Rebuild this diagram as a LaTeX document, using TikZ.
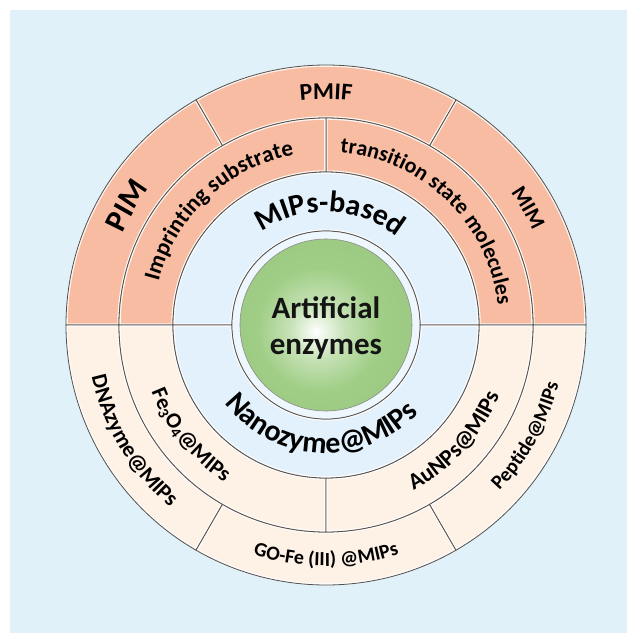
\documentclass[tikz,border=0pt]{standalone}
\usepackage{fontspec}
\setmainfont{Carlito}
\usetikzlibrary{decorations.text}

\definecolor{panelblue}{RGB}{224,241,250}
\definecolor{ringblue}{RGB}{226,241,251}
\definecolor{salmon}{RGB}{247,188,161}
\definecolor{cream}{RGB}{254,241,229}
\definecolor{leafgreen}{RGB}{160,206,134}
\definecolor{edgegray}{RGB}{85,78,74}

\pgfdeclareradialshading{coreglow}{\pgfpoint{-3bp}{-2bp}}{color(0bp)=(white); color(8bp)=(leafgreen!60!white); color(18bp)=(leafgreen); color(50bp)=(leafgreen!93!black)}

% one piece of a ring: inner radius, outer radius, from, to, colour
\newcommand{\ringpart}[5]{%
  \def\partpath{(#3:#2) arc[start angle=#3, end angle=#4, radius=#2] -- (#4:#1) arc[start angle=#4, end angle=#3, radius=#1] -- cycle}
  \fill[#5] \partpath;
  \begin{scope}
    \clip \partpath;
    \draw[white, line width=3.5pt, opacity=0.85] \partpath;
  \end{scope}
  \draw[edgegray, line width=0.8pt] \partpath;}

% text centred on an arc: radius, from, to, size, text
\newcommand{\arclabel}[5]{%
  \path[decorate, decoration={text along path, text align=center,
      text={|\fontsize{#4}{#4}\selectfont\bfseries|#5}}]
    (#2:#1) arc[start angle=#2, end angle=#3, radius=#1];}

\begin{document}
\begin{tikzpicture}[x=1pt, y=1pt]
  \useasboundingbox (-326,-308) rectangle (301,325);
  \fill[panelblue] (-316,-308) rectangle (301,315);

  % outer ring
  \foreach \from/\to/\col in {0/60/salmon, 60/120/salmon, 120/180/salmon,
                              180/240/cream, 240/300/cream, 300/360/cream}
    \ringpart{207}{260}{\from}{\to}{\col};
  % second ring
  \foreach \from/\to/\col in {0/90/salmon, 90/180/salmon, 180/270/cream, 270/360/cream}
    \ringpart{153}{207}{\from}{\to}{\col};
  % inner ring
  \foreach \from/\to in {0/180, 180/360}
    \ringpart{94}{153}{\from}{\to}{ringblue};

  % core
  \filldraw[fill=ringblue!60!white, draw=edgegray, line width=0.7pt] (0,0) circle (94);
  \shade[shading=coreglow] (0,0) circle (86);
  \draw[black!45, line width=0.6pt] (0,0) circle (86);
  \node[font=\fontsize{31}{36}\selectfont\bfseries, align=center, text=black!92] (core) at (0,-3) {Artificial\\enzymes};

  % upper half
  \arclabel{223}{178}{120}{31}{PIM}
  \arclabel{226}{118}{62}{24}{PMIF}
  \arclabel{227}{58}{2}{22}{MIM}
  \arclabel{173}{178}{88}{23}{Imprinting substrate}
  \arclabel{173}{106}{-14}{22}{transition state molecules}
  \arclabel{113}{150}{26}{30}{MIPs-based}

  % lower half
  \arclabel{128}{190}{344}{30}{Nanozyme@MIPs}
  \arclabel{187}{184}{254}{22}{Fe{\textsubscript{3}}O{\textsubscript{4}}@MIPs}
  \arclabel{240}{181}{241}{22}{DNAzyme@MIPs}
  \arclabel{241}{240}{300}{20}{GO-Fe (III) @MIPs}
  \arclabel{187}{286}{350}{23}{AuNPs@MIPs}
  \arclabel{240}{301}{361}{20}{Peptide@MIPs}
\end{tikzpicture}
\end{document}
